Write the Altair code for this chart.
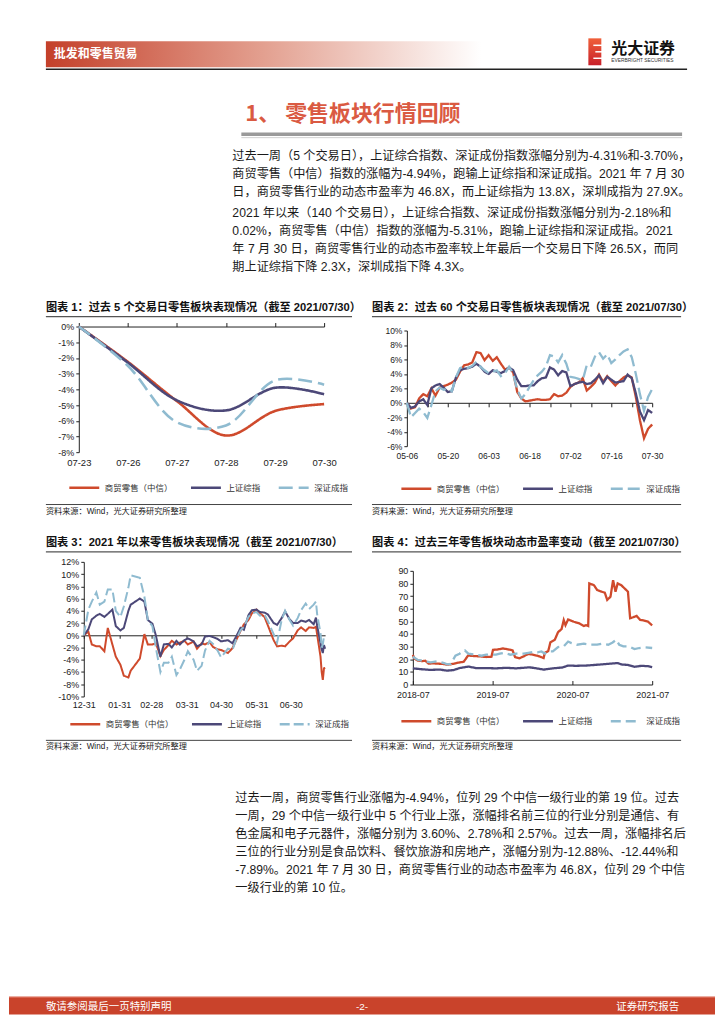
import json
import altair as alt
import pandas as pd

FONT_CJK = "Noto Sans CJK SC"
FONT_MIX = "Liberation Sans, Noto Sans CJK SC"
FONT_LAT = "Liberation Sans"

# ---------------- data ----------------
series_names = ["商贸零售（中信）", "上证综指", "深证成指"]
series_colors = ["#cf4a2c", "#4c4878", "#8fbbd0"]

# chart 1: last 5 trading days (%)
c1_dates = ["07-23", "07-26", "07-27", "07-28", "07-29", "07-30"]
c1_retail = [0.0, -2.25, -4.75, -6.94, -5.38, -4.94]
c1_sh = [0.0, -2.30, -4.70, -5.34, -3.90, -4.31]
c1_sz = [0.0, -2.50, -6.10, -6.30, -3.43, -3.70]
c1_yticks = [-8, -7, -6, -5, -4, -3, -2, -1, 0]

# chart 2: last 60 trading days (%)
c2_dates = [
    "05-06", "05-07", "05-10", "05-11", "05-12", "05-13", "05-14", "05-17", "05-18", "05-19",
    "05-20", "05-21", "05-24", "05-25", "05-26", "05-27", "05-28", "05-31", "06-01", "06-02",
    "06-03", "06-04", "06-07", "06-08", "06-09", "06-10", "06-11", "06-15", "06-16", "06-17",
    "06-18", "06-21", "06-22", "06-23", "06-24", "06-25", "06-28", "06-29", "06-30", "07-01",
    "07-02", "07-05", "07-06", "07-07", "07-08", "07-09", "07-12", "07-13", "07-14", "07-15",
    "07-16", "07-19", "07-20", "07-21", "07-22", "07-23", "07-26", "07-27", "07-28", "07-29",
    "07-30"]
c2_labels = ["05-06", "05-20", "06-03", "06-18", "07-02", "07-16", "07-30"]
c2_retail = [0.0, -0.8, -0.6, 0.6, 1.2, 0.9, 2.0, 1.0, 2.1, 2.3,
             2.5, 2.8, 3.2, 4.3, 5.2, 5.3, 5.6, 7.0, 6.9, 5.9,
             6.6, 5.8, 6.3, 5.4, 4.6, 4.9, 4.2, 1.5, 0.6, 0.2,
             0.3, 0.4, 0.5, 0.4, 0.4, 0.5, 1.2, 0.9, 1.0, 1.4,
             2.2, 2.6, 2.8, 3.4, 1.7, 2.2, 2.8, 3.9, 2.9, 3.7,
             3.0, 2.4, 3.0, 3.5, 3.8, 3.5, 0.8, -2.4, -4.9, -3.6,
             -3.0]
c2_sh = [0.0, -0.7, -0.5, 0.2, 0.5, -0.3, 2.0, 2.4, 2.6, 2.1,
         1.5, 1.6, 3.5, 4.5, 4.7, 4.8, 5.0, 5.4, 5.0, 4.3,
         4.0, 4.5, 4.3, 4.1, 4.4, 4.9, 4.5, 3.2, 2.3, 2.3,
         2.4, 2.4, 3.0, 3.4, 3.5, 4.9, 4.6, 3.8, 4.4, 4.2,
         2.3, 2.6, 2.8, 2.9, 2.6, 2.7, 3.2, 3.8, 2.7, 3.6,
         3.2, 2.8, 2.9, 3.0, 3.9, 3.4, 1.3, -1.2, -2.4, -1.0,
         -1.4]
c2_sz = [0.0, -2.0, -1.4, -0.8, -1.3, -2.1, -0.3, 1.6, 2.1, 1.8,
         2.0, 1.6, 3.5, 4.8, 5.0, 4.8, 5.1, 5.7, 5.0, 4.5,
         4.1, 4.3, 4.5, 3.7, 4.1, 5.0, 4.0, 1.8, 0.6, 1.2,
         2.2, 3.1, 3.8, 4.3, 5.0, 6.6, 6.4, 5.6, 6.6, 5.4,
         3.6, 3.5, 3.3, 3.1, 5.2, 5.0, 6.4, 7.0, 6.1, 6.7,
         5.5, 6.0, 6.6, 7.1, 7.4, 6.3, 4.0, 1.2, -1.1, 0.8,
         1.9]
c2_yticks = [-6, -4, -2, 0, 2, 4, 6, 8, 10]

# chart 3: year to date (%)
c3_dates = [
    "2020-12-31", "2021-01-04", "2021-01-07", "2021-01-11", "2021-01-14", "2021-01-18",
    "2021-01-21", "2021-01-25", "2021-01-28", "2021-02-01", "2021-02-04", "2021-02-08",
    "2021-02-10", "2021-02-18", "2021-02-22", "2021-02-25", "2021-03-01", "2021-03-04",
    "2021-03-08", "2021-03-11", "2021-03-15", "2021-03-18", "2021-03-22", "2021-03-25",
    "2021-03-29", "2021-04-01", "2021-04-06", "2021-04-09", "2021-04-13", "2021-04-16",
    "2021-04-20", "2021-04-23", "2021-04-27", "2021-04-30", "2021-05-06", "2021-05-10",
    "2021-05-13", "2021-05-17", "2021-05-20", "2021-05-24", "2021-05-27", "2021-05-31",
    "2021-06-03", "2021-06-07", "2021-06-10", "2021-06-15", "2021-06-18", "2021-06-22",
    "2021-06-25", "2021-06-29", "2021-07-02", "2021-07-06", "2021-07-09", "2021-07-13",
    "2021-07-16", "2021-07-20", "2021-07-22", "2021-07-23", "2021-07-26", "2021-07-27",
    "2021-07-28", "2021-07-29", "2021-07-30"]
c3_retail = [0.0, 0.6, -1.5, -1.8, -1.8, -2.6, 1.2, -1.5, -3.5, -4.8, -6.6, -6.9,
             -5.8, -3.8, 0.2, -1.5, -1.5, -1.3, -3.4, -2.4, -1.6, -0.9, -1.5, -1.2,
             -0.9, -1.5, -1.0, -2.2, -1.3, -1.5, -1.1, -1.9, -2.3, -2.4, -2.9, -2.1,
             -0.9, 0.7, 1.8, 2.5, 3.6, 4.2, 3.6, 3.0, 1.6, -0.8, -1.8, -1.7,
             -1.8, -1.0, -0.5, 0.8, 1.3, 0.7, 1.3, 1.2, 1.4, 0.2, -3.5, -6.0,
             -7.3, -5.4, -5.3]
c3_sh = [0.0, 1.0, 2.6, 3.2, 3.5, 3.0, 3.5, 4.2, 1.5, 0.8, 1.2, 4.0,
         5.0, 6.0, 5.5, 2.5, 1.9, 0.0, -3.5, -1.5, -1.4, -2.0, -0.9, -1.5,
         -0.8, -0.5, -1.0, -1.8, -1.5, -0.2, -0.1, -0.3, -0.6, -1.0, -0.8, -1.3,
         -0.3, 1.2, 0.9, 3.3, 4.1, 4.2, 3.8, 3.7, 3.4, 2.0, 1.7, 2.8,
         3.9, 2.6, 2.0, 2.0, 2.4, 2.2, 2.5, 1.8, 2.9, 1.6, -1.3, -2.3,
         -2.9, -1.6, -2.2]
c3_sz = [0.0, 4.2, 5.5, 7.0, 5.0, 5.5, 7.5, 7.5, 4.0, 3.0, 4.7, 7.8,
         9.8, 9.4, 6.3, 2.5, 1.5, -2.0, -6.0, -4.5, -4.5, -3.5, -6.5, -5.6,
         -4.0, -2.6, -4.0, -5.8, -5.0, -2.5, -0.9, -1.4, -2.5, -3.6, -2.2, -2.4,
         -0.8, 0.8, 1.4, 3.0, 3.6, 3.8, 3.2, 3.4, 2.3, 0.2, -1.2, 2.5,
         4.0, 2.5, 1.6, 2.8, 4.1, 5.2, 4.3, 5.0, 5.5, 3.5, 0.3, -2.0,
         -1.5, -0.2, 0.0]
c3_ticks = [(2020, 12, 31), (2021, 1, 31), (2021, 2, 28), (2021, 3, 31),
            (2021, 4, 30), (2021, 5, 31), (2021, 6, 30)]
c3_yticks = [-10, -8, -6, -4, -2, 0, 2, 4, 6, 8, 10, 12]

# chart 4: dynamic PE, last three years
c4_retail_dates = [
    "2018-07-30", "2018-08-06", "2018-08-20", "2018-09-10", "2018-09-25", "2018-10-10",
    "2018-10-31", "2018-11-20", "2018-12-15", "2019-01-03", "2019-01-20", "2019-02-10",
    "2019-03-01", "2019-03-20", "2019-04-05", "2019-04-10", "2019-05-05", "2019-06-01",
    "2019-07-01", "2019-07-25", "2019-08-01", "2019-08-20", "2019-09-15", "2019-10-10",
    "2019-10-30", "2019-11-10", "2019-11-30", "2019-12-20", "2020-01-10", "2020-01-30",
    "2020-02-20", "2020-03-10", "2020-03-20", "2020-03-25", "2020-04-10", "2020-04-20",
    "2020-05-10", "2020-05-25", "2020-06-10", "2020-06-20", "2020-06-28", "2020-07-10",
    "2020-08-05", "2020-08-30", "2020-09-20", "2020-09-30", "2020-10-10", "2020-10-15",
    "2020-11-05", "2020-11-20", "2020-12-10", "2020-12-25", "2021-01-05", "2021-01-20",
    "2021-02-01", "2021-02-12", "2021-02-22", "2021-03-10", "2021-04-10", "2021-04-20",
    "2021-05-05", "2021-05-20", "2021-06-05", "2021-06-20", "2021-07-10", "2021-07-30"]
c4_retail = [23.5, 20.5, 19.0, 18.5, 18.8, 16.5, 16.8, 16.5, 16.3, 15.7, 16.0, 16.8,
             17.5, 18.0, 22.0, 23.0, 22.5, 22.3, 21.8, 22.0, 27.5, 27.6, 28.6, 27.8,
             27.0, 21.7, 20.8, 22.3, 24.3, 23.6, 22.8, 21.6, 21.0, 25.0, 26.5, 33.5,
             35.4, 41.5, 43.8, 51.0, 47.0, 51.5, 49.7, 48.4, 46.3, 47.0, 46.3, 80.0,
             78.7, 74.8, 73.5, 72.7, 67.0, 69.5, 82.6, 73.5, 80.0, 78.7, 73.5, 52.5,
             53.3, 54.3, 51.2, 50.7, 49.9, 46.8]
c4_sh_dates = [
    "2018-07-30", "2018-09-01", "2018-10-15", "2018-12-01", "2019-01-03", "2019-02-01",
    "2019-03-01", "2019-04-10", "2019-05-15", "2019-07-01", "2019-08-15", "2019-10-01",
    "2019-11-15", "2020-01-15", "2020-02-10", "2020-03-20", "2020-05-01", "2020-06-15",
    "2020-07-10", "2020-08-15", "2020-09-30", "2020-11-01", "2020-12-15", "2021-01-20",
    "2021-02-20", "2021-03-15", "2021-04-10", "2021-05-10", "2021-06-10", "2021-07-10",
    "2021-07-30"]
c4_sh = [12.8, 12.2, 11.6, 11.8, 11.0, 11.4, 13.0, 14.2, 13.0, 13.0, 12.8, 13.2,
         12.8, 13.6, 13.0, 11.8, 12.8, 13.5, 15.0, 14.8, 15.0, 15.4, 16.0, 16.5,
         17.0, 15.8, 15.5, 14.0, 14.8, 14.5, 13.8]
c4_sz_dates = [
    "2018-07-30", "2018-08-20", "2018-09-20", "2018-10-20", "2018-11-20", "2018-12-20",
    "2019-01-03", "2019-01-20", "2019-02-10", "2019-03-01", "2019-03-15", "2019-03-25",
    "2019-04-10", "2019-05-10", "2019-06-10", "2019-07-01", "2019-08-15", "2019-09-01",
    "2019-09-20", "2019-10-20", "2019-11-15", "2019-12-20", "2020-01-10", "2020-02-01",
    "2020-02-20", "2020-03-10", "2020-03-25", "2020-04-10", "2020-05-01", "2020-05-25",
    "2020-06-20", "2020-07-10", "2020-07-25", "2020-08-20", "2020-09-20", "2020-10-20",
    "2020-11-20", "2020-12-15", "2021-01-10", "2021-01-30", "2021-02-15", "2021-03-01",
    "2021-03-20", "2021-04-15", "2021-05-10", "2021-06-01", "2021-06-25", "2021-07-30"]
c4_sz = [22.0, 19.6, 18.4, 17.6, 18.4, 17.0, 16.0, 16.3, 22.8, 24.4, 26.2, 27.0,
         24.4, 23.6, 22.8, 23.6, 23.6, 24.4, 25.0, 23.6, 24.4, 24.4, 25.0, 25.7,
         25.5, 26.2, 24.5, 26.2, 26.2, 29.6, 30.2, 34.0, 32.8, 31.5, 32.3, 31.5,
         31.5, 32.3, 31.5, 33.3, 35.4, 31.5, 30.2, 30.2, 28.0, 28.9, 29.4, 28.9]
c4_ticks = [(2018, 7, 30), (2019, 7, 30), (2020, 7, 30), (2021, 7, 30)]
c4_yticks = [0, 10, 20, 30, 40, 50, 60, 70, 80, 90]

# texts
para1 = ["过去一周（5 个交易日），上证综合指数、深证成份指数涨幅分别为-4.31%和-3.70%，",
         "商贸零售（中信）指数的涨幅为-4.94%，跑输上证综指和深证成指。2021 年 7 月 30",
         "日，商贸零售行业的动态市盈率为 46.8X，而上证综指为 13.8X，深圳成指为 27.9X。"]
para2 = ["2021 年以来（140 个交易日），上证综合指数、深证成份指数涨幅分别为-2.18%和",
         "0.02%，商贸零售（中信）指数的涨幅为-5.31%，跑输上证综指和深证成指。2021",
         "年 7 月 30 日，商贸零售行业的动态市盈率较上年最后一个交易日下降 26.5X，而同",
         "期上证综指下降 2.3X，深圳成指下降 4.3X。"]
para3 = ["过去一周，商贸零售行业涨幅为-4.94%，位列 29 个中信一级行业的第 19 位。过去",
         "一周，29 个中信一级行业中 5 个行业上涨，涨幅排名前三位的行业分别是通信、有",
         "色金属和电子元器件，涨幅分别为 3.60%、2.78%和 2.57%。过去一周，涨幅排名后",
         "三位的行业分别是食品饮料、餐饮旅游和房地产，涨幅分别为-12.88%、-12.44%和",
         "-7.89%。2021 年 7 月 30 日，商贸零售行业的动态市盈率为 46.8X，位列 29 个中信",
         "一级行业的第 10 位。"]
chart_titles = ["图表 1：过去 5 个交易日零售板块表现情况（截至 2021/07/30）",
                "图表 2：过去 60 个交易日零售板块表现情况（截至 2021/07/30）",
                "图表 3：2021 年以来零售板块表现情况（截至 2021/07/30）",
                "图表 4：过去三年零售板块动态市盈率变动（截至 2021/07/30）"]
source_text = "资料来源：Wind，光大证券研究所整理"
header_text = "批发和零售贸易"
section_title = "1、 零售板块行情回顾"
footer_left = "敬请参阅最后一页特别声明"
footer_mid = "-2-"
footer_right = "证券研究报告"

RED = "#c9432b"
PAGE_W, PAGE_H = 708, 1008

# ---------------- helpers (all positions in plot px = page px - 8) ----------------
dummy = pd.DataFrame({"k": [0]})


def txt(x, y, s, size, color="#1a1a1a", weight="normal", font=FONT_MIX, align="left"):
    return alt.Chart(dummy).mark_text(
        text=s, fontSize=size, color=color, fontWeight=weight, font=font,
        align=align, baseline="middle").encode(x=alt.value(x), y=alt.value(y))


def hrule(x1, x2, y, color, width):
    return alt.Chart(dummy).mark_rule(color=color, strokeWidth=width).encode(
        x=alt.value(x1), x2=alt.value(x2), y=alt.value(y))


def rect(x1, x2, y1, y2, color, opacity=1.0):
    return alt.Chart(dummy).mark_rect(color=color, opacity=opacity).encode(
        x=alt.value(x1), x2=alt.value(x2), y=alt.value(y1), y2=alt.value(y2))


def long_df(xs_list, vals_list):
    rows = []
    for name, xs, vals in zip(series_names, xs_list, vals_list):
        for xv, v in zip(xs, vals):
            rows.append({"date": xv, "value": v, "series": name})
    return pd.DataFrame(rows)


def legend(lx, ly):
    # symbol row height is sqrt(symbolSize) = 30 px, so ly is centre - 15
    return alt.Legend(orient="none", legendX=lx, legendY=ly, direction="horizontal",
                      title=None, symbolType="stroke", symbolSize=900,
                      symbolStrokeWidth=2.5, labelFont=FONT_CJK, labelFontSize=8.5,
                      labelColor="#333333", columnPadding=12, labelOffset=4,
                      padding=0, labelLimit=200)


def lines(df, x, y, dash, sw, interp, lg):
    color = alt.Color("series:N", sort=series_names,
                      scale=alt.Scale(domain=series_names, range=series_colors), legend=lg)
    sdash = alt.StrokeDash("series:N", sort=series_names,
                           scale=alt.Scale(domain=series_names,
                                           range=[[1, 0], [1, 0], dash]), legend=lg)
    return alt.Chart(df).mark_line(strokeWidth=sw, interpolate=interp).encode(
        x=x, y=y, color=color, strokeDash=sdash)


def yaxis(values, expr, size, xpos):
    kw = dict(title=None, orient="left", offset=-xpos, values=values, grid=False,
              domainColor="#222222", tickColor="#222222", tickSize=3, labelFontSize=size,
              labelFont=FONT_LAT, labelColor="#222222", labelPadding=2, labelFlush=False)
    if expr:
        kw["labelExpr"] = expr
    return alt.Axis(**kw)


def xaxis(orient, ypos, lp, size, tick, **extra):
    off = -ypos if orient == "top" else ypos - PAGE_H
    return alt.Axis(title=None, orient=orient, offset=off, domainColor="#222222",
                    tickColor="#222222", tickSize=tick, labelPadding=lp,
                    labelBaseline="middle", labelFontSize=size, labelFont=FONT_LAT,
                    labelColor="#222222", labelAngle=0, labelOverlap=False, grid=False,
                    labelFlush=False, labelAlign="center", **extra)


def decor(title, tx, ty, rx2, ry, sry, sy):
    return [
        txt(tx, ty, title, 11.2, color="#111111", weight="bold", font=FONT_MIX),
        hrule(tx, rx2, ry, "#555555", 1.2),
        hrule(tx, rx2, sry, "#444444", 1.0),
        txt(tx, sy, source_text, 8.2, color="#222222", font=FONT_MIX),
    ]


# ---------------- chart 1 (plot box x 70..316, y 318..444) ----------------
df1 = long_df([c1_dates] * 3, [c1_retail, c1_sh, c1_sz])
x1 = alt.X("date:O", sort=c1_dates,
           scale=alt.Scale(type="point", padding=0, range=[70, 316]),
           axis=xaxis("top", 318, -140, 9.5, 4))
y1 = alt.Y("value:Q", scale=alt.Scale(domain=[-8, 0], range=[444, 318], nice=False, zero=False),
           axis=yaxis(c1_yticks, "datum.value + '%'", 9, 70))
core1 = lines(df1, x1, y1, [14, 6], 2.6, "catmull-rom", legend(59, 463))

# ---------------- chart 2 (plot box x 399..645, y 322..438) ----------------
df2 = long_df([c2_dates] * 3, [c2_retail, c2_sh, c2_sz])
lab_expr2 = "indexof(" + json.dumps(c2_labels) + ", datum.value) >= 0 ? datum.value : ''"
y0_2 = 322 + 116 * 10 / 16
x2 = alt.X("date:O", sort=c2_dates,
           scale=alt.Scale(type="point", padding=0, range=[399, 645]),
           axis=xaxis("bottom", y0_2, 48.5, 8.5, 4, values=c2_dates[::5], labelExpr=lab_expr2))
y2 = alt.Y("value:Q", scale=alt.Scale(domain=[-6, 10], range=[438, 322], nice=False, zero=False),
           axis=yaxis(c2_yticks, "datum.value + '%'", 8.5, 399))
core2 = lines(df2, x2, y2, [12, 5], 2.3, "linear", legend(392, 464))

# ---------------- chart 3 (plot box x 75..317, y 554..689) ----------------
df3 = long_df([pd.to_datetime(c3_dates)] * 3, [c3_retail, c3_sh, c3_sz])
y0_3 = 554 + 135 * 12 / 22
x3 = alt.X("date:T",
           scale=alt.Scale(domain=[alt.DateTime(year=2020, month=12, date=31),
                                   alt.DateTime(year=2021, month=7, date=30)],
                           range=[75, 317]),
           axis=xaxis("bottom", y0_3, 66.4, 9, 3,
                      values=[alt.DateTime(year=a, month=b, date=c) for a, b, c in c3_ticks],
                      format="%m-%d"))
y3 = alt.Y("value:Q", scale=alt.Scale(domain=[-10, 12], range=[689, 554], nice=False, zero=False),
           axis=yaxis(c3_yticks, "datum.value + '%'", 9, 75))
core3 = lines(df3, x3, y3, [10, 4], 2.0, "linear", legend(60, 700))

# ---------------- chart 4 (plot box x 405..645, y 563..677) ----------------
df4 = long_df([pd.to_datetime(c4_retail_dates), pd.to_datetime(c4_sh_dates),
               pd.to_datetime(c4_sz_dates)], [c4_retail, c4_sh, c4_sz])
x4 = alt.X("date:T",
           scale=alt.Scale(domain=[alt.DateTime(year=2018, month=7, date=30),
                                   alt.DateTime(year=2021, month=7, date=30)],
                           range=[405, 645]),
           axis=xaxis("top", 677, -14, 9, 4,
                      values=[alt.DateTime(year=a, month=b, date=c) for a, b, c in c4_ticks],
                      format="%Y-%m"))
y4 = alt.Y("value:Q", scale=alt.Scale(domain=[0, 90], range=[677, 563], nice=False),
           axis=yaxis(c4_yticks, "", 9, 405))
core4 = lines(df4, x4, y4, [10, 5], 2.3, "linear", legend(392, 697))

# ---------------- page decoration ----------------
grad = alt.Gradient(gradient="linear",
                    stops=[alt.GradientStop(color="#c4402a", offset=0),
                           alt.GradientStop(color="#e3a090", offset=0.5),
                           alt.GradientStop(color="#ffffff", offset=1)],
                    x1=0, x2=1, y1=0, y2=0)
logo_grad = alt.Gradient(gradient="linear",
                         stops=[alt.GradientStop(color="#f0603a", offset=0),
                                alt.GradientStop(color="#c8202a", offset=1)],
                         x1=0, x2=0, y1=0, y2=1)
layers = [
    rect(0, PAGE_W, 0, PAGE_H, "#ffffff", 0.0),
    alt.Chart(dummy).mark_rect(color=grad).encode(
        x=alt.value(37), x2=alt.value(474), y=alt.value(32), y2=alt.value(58)),
    txt(45, 45, header_text, 12, color="#ffffff", weight="bold", font=FONT_CJK),
    alt.Chart(dummy).mark_rect(color=logo_grad).encode(
        x=alt.value(581), x2=alt.value(594), y=alt.value(29), y2=alt.value(56)),
    hrule(586, 595, 36, "#ffffff", 1.5),
    hrule(588, 595, 42.5, "#ffffff", 1.5),
    hrule(586, 595, 49, "#ffffff", 1.5),
    txt(604, 40, "光大证券", 16, color="#111111", weight="bold", font=FONT_CJK),
    txt(604, 51.5, "EVERBRIGHT SECURITIES", 4.9, color="#333333", font=FONT_LAT),
    hrule(37, 680, 60, "#222222", 1.5),
    txt(237, 105, section_title, 22, color="#da5a42", weight="bold", font=FONT_CJK),
    hrule(233, 675, 125.3, "#9a9a9a", 3.5),
    hrule(233, 675, 128.6, "#d0d0d0", 1),
]
for i, s in enumerate(para1):
    layers.append(txt(224, 147 + 18 * i, s, 12.2))
for i, s in enumerate(para2):
    layers.append(txt(224, 204 + 18 * i, s, 12.2))

layers += decor(chart_titles[0], 37, 299, 344, 308, 496.5, 504)
layers += decor(chart_titles[1], 364, 299, 674, 308, 496.5, 504)
layers += decor(chart_titles[2], 37, 535, 344, 544, 733, 740)
layers += decor(chart_titles[3], 364, 535, 674, 544, 733, 740)
layers += [core1, core2, core3, core4]

for i, s in enumerate(para3):
    layers.append(txt(227, 791 + 18 * i, s, 12.2))
layers += [
    rect(0, PAGE_W, 990, PAGE_H, RED),
    hrule(0, PAGE_W, 990.5, "#e07a66", 1),
    txt(37, 1000, footer_left, 10.5, color="#ffffff", font=FONT_CJK),
    txt(354, 1000, footer_mid, 10, color="#ffffff", font=FONT_LAT, align="center"),
    txt(672, 1000, footer_right, 10.5, color="#ffffff", font=FONT_CJK, align="right"),
]

chart = alt.layer(*layers).resolve_scale(
    x="independent", y="independent", color="independent", strokeDash="independent"
).resolve_axis(x="independent", y="independent").resolve_legend(
    color="independent", strokeDash="independent"
).properties(width=PAGE_W, height=PAGE_H, padding=0, background="#ffffff"
).configure_view(strokeWidth=0)

chart.save("out.html", embed_options={"renderer": "svg", "actions": False})
